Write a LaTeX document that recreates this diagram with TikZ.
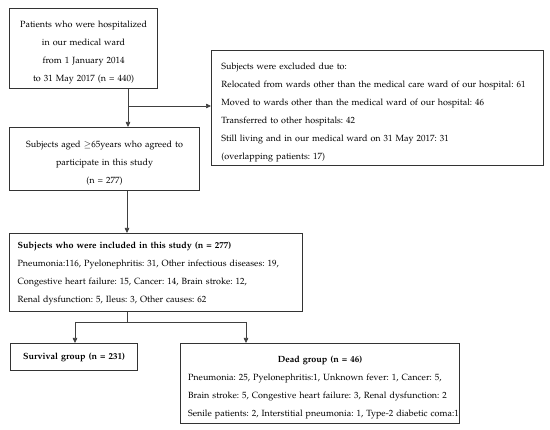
\documentclass[tikz,border=0pt]{standalone}
\usepackage[T1]{fontenc}
\usepackage{mathpazo}
\usetikzlibrary{arrows.meta}
\newcommand\myTop[1]{\rule{0pt}{#1pt}}
\newcommand\myBot[1]{\rule[-#1pt]{0pt}{#1pt}}
\begin{document}
\frenchspacing
\begin{tikzpicture}[x=1pt,y=-1pt,
  box/.style={draw=black!80, line width=1.1pt, inner sep=0pt, anchor=north west,
    font=\fontsize{9}{18}\selectfont\frenchspacing},
  cbox/.style={box, align=center},
  lbox/.style={box, align=left},
  conn/.style={draw=black!75, line width=0.7pt},
  arr/.style={conn,-{Triangle[length=5pt,width=4.5pt]}}]
\useasboundingbox (0,0) rectangle (550,430);
\node[cbox, text width=148pt] (p) at (9,8)
  {\myTop{19}Patients who were hospitalized\\in our medical ward\\from 1 January 2014\\to 31 May 2017 (n = 440)\myBot{7}};
\node[cbox, text width=190pt] (s) at (9,127)
  {\myTop{20}\mbox{Subjects aged $\geq$65years who agreed to}\\participate in this study\\(n = 277)\myBot{7}};
\node[lbox, line width=0.9pt, inner xsep=10pt, text width=312pt] (e) at (211,50)
  {\myTop{19}\mbox{Subjects were excluded due to:}\\
   \mbox{Relocated from wards other than the medical care ward of our hospital: 61}\\
   \mbox{Moved to wards other than the medical ward of our hospital: 46}\\
   \mbox{Transferred to other hospitals: 42}\\
   \mbox{Still living and in our medical ward on 31 May 2017: 31}\\
   \mbox{(overlapping patients: 17)}\myBot{6}};
\node[lbox, inner xsep=8pt, text width=277pt] (i) at (9,233)
  {\myTop{15}\mbox{\textbf{Subjects who were included in this study (n = 277)}}\\
   \mbox{Pneumonia:116, Pyelonephritis: 31, Other infectious diseases: 19,}\\
   \mbox{Congestive heart failure: 15, Cancer: 14, Brain stroke: 12,}\\
   \mbox{Renal dysfunction: 5, Ileus: 3, Other causes: 62}\myBot{9}};
\node[cbox, text width=127pt] (sv) at (10,343)
  {\myTop{16}\textbf{Survival group (n = 231)}\myBot{11}};
\node[lbox, inner xsep=7.5pt, text width=264pt] (d) at (180,343)
  {\myTop{19}\makebox[264pt][c]{\textbf{Dead group (n = 46)}}\\
   \mbox{Pneumonia: 25, Pyelonephritis:1, Unknown fever: 1, Cancer: 5,}\\
   \mbox{Brain stroke: 5, Congestive heart failure: 3, Renal dysfunction: 2}\\
   \mbox{Senile patients: 2, Interstitial pneumonia: 1, Type-2 diabetic coma:1}\myBot{7}};
\coordinate (b1) at (128,106);
\draw[arr] (p.south -| b1) -- (s.north -| b1);
\draw[arr] (b1) -- (b1 -| e.west);
\coordinate (j) at (127,322);
\coordinate (jl) at (75,322);
\coordinate (jr) at (246,322);
\draw[conn] (i.south -| j) -- (j);
\draw[conn] (jl) -- (jr);
\draw[arr] (jl) -- (jl |- sv.north);
\draw[arr] (jr) -- (jr |- d.north);
\draw[arr] (s.south -| j) -- (i.north -| j);
\end{tikzpicture}
\end{document}
